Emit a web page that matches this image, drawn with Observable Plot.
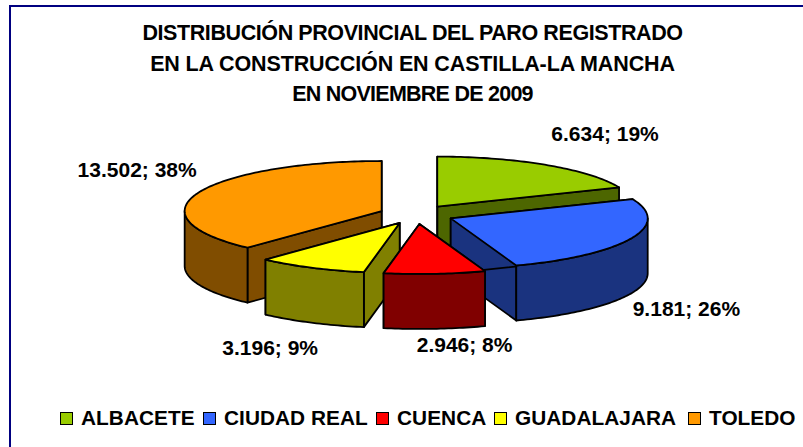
<!DOCTYPE html>
<html><head><meta charset="utf-8">
<script src="https://cdn.jsdelivr.net/npm/d3@7"></script>
<script src="https://cdn.jsdelivr.net/npm/@observablehq/plot@0.6"></script>
<style>
html,body{margin:0;padding:0;background:#fff;overflow:hidden}
#page{position:relative;width:803px;height:447px;font-family:"Liberation Sans",Arial,sans-serif;font-weight:bold;color:#000;overflow:hidden}
#rule{position:absolute;left:9px;top:5px;width:900px;height:600px;border-top:2px solid #000080;border-left:2px solid #000080}
#title{position:absolute;left:0;width:825px;top:18px;text-align:center;font-size:21.5px;line-height:30.5px}
#legend{position:absolute;left:0;top:405px;height:26px;width:803px;font-size:20.8px;letter-spacing:.05px}
#legend span.k{position:absolute;top:1px;white-space:nowrap}
#legend i{position:absolute;top:7px;width:11px;height:11px;border:1px solid #000;box-sizing:content-box}
svg{position:absolute;left:0;top:0}
</style></head><body>
<div id="page"><div id="rule"></div>
<div id="title"></div><div id="chart"></div><div id="legend"></div></div>
<script>
const titleLines = ["DISTRIBUCIÓN PROVINCIAL DEL PARO REGISTRADO","EN LA CONSTRUCCIÓN EN CASTILLA-LA MANCHA","EN NOVIEMBRE DE 2009"];
const provinces = ["ALBACETE","CIUDAD REAL","CUENCA","GUADALAJARA","TOLEDO"];
const paro = [6634,9181,2946,3196,13502];
const topColors = ["#99cc00","#3366ff","#ff0000","#ffff00","#ff9900"];
const wallColors = ["#4d6600","#1a337f","#800000","#808000","#804d00"];
// layout (pie units: radius = 1)
const explode = 0.19, depth = 1.1;
const titleSpacing = [-0.41,-0.13,-0.75];
const labelAnchor = [[0.957,1.61],[1.37,-1.89],[0.244,-2.61],[-0.743,-2.67],[-1.418,0.89]];
const paintOrder = [0,4,1,3,2];
const legendX = [60,203,376,494,688];

document.getElementById("title").innerHTML = titleLines.map((t,i)=>`<div style="letter-spacing:${titleSpacing[i]}px">${t}</div>`).join("");
const total = d3.sum(paro);
const fmt = d3.formatLocale({decimal:",",thousands:".",grouping:[3],currency:["","€"]}).format(",d");
let acc = 0;
const slices = paro.map((v,i)=>{const a0=acc/total*2*Math.PI; acc+=v; const a1=acc/total*2*Math.PI;
  const m=(a0+a1)/2; return {i,a0,a1,cx:explode*Math.sin(m),cy:explode*Math.cos(m),label:`${fmt(v)}; ${Math.round(v/total*100)}%`};});
const rim=(s,a)=>({x:s.cx+Math.sin(a),y:s.cy+Math.cos(a)});
const arcPts=(s,a0,a1)=>{const n=Math.max(2,Math.ceil((a1-a0)/0.02));return d3.range(n+1).map(k=>rim(s,a0+(a1-a0)*k/n));};
const drop=p=>({x:p.x,y:p.y-depth});
const face=(pts,fill)=>Plot.line(pts,{x:"x",y:"y",fill,stroke:"#000",strokeWidth:1.8,curve:"linear-closed",strokeLinejoin:"round"});
const marks=[];
for(const idx of paintOrder){const s=slices[idx];const c={x:s.cx,y:s.cy};const wall=wallColors[idx];
  for(const a of [s.a1,s.a0]){const r=rim(s,a);marks.push(face([c,r,drop(r),drop(c)],wall));}
  const f0=Math.max(s.a0,Math.PI/2),f1=Math.min(s.a1,3*Math.PI/2);
  if(f1>f0){const o=arcPts(s,f0,f1);marks.push(face([...o,...o.slice().reverse().map(drop)],wall));}
  marks.push(face([c,...arcPts(s,s.a0,s.a1)],topColors[idx]));
}
marks.push(Plot.text(slices,{x:(d)=>labelAnchor[d.i][0],y:(d)=>labelAnchor[d.i][1],text:"label",fontSize:21,fontWeight:"bold",fontFamily:"Liberation Sans",fill:"#000",letterSpacing:"-.2px"}));
const chart=Plot.plot({width:803,height:447,margin:0,style:{background:"transparent",overflow:"visible"},
  x:{domain:[-1,1],range:[219,613],axis:null},
  y:{domain:[-1,1],range:[264,164],axis:null},marks});
document.getElementById("chart").append(chart);
const lg=document.getElementById("legend");
provinces.forEach((p,i)=>{const sw=document.createElement("i");sw.style.left=legendX[i]+"px";sw.style.background=topColors[i];
  const t=document.createElement("span");t.className="k";t.style.left=(legendX[i]+21)+"px";t.textContent=p;lg.append(sw,t);});
</script></body></html>
